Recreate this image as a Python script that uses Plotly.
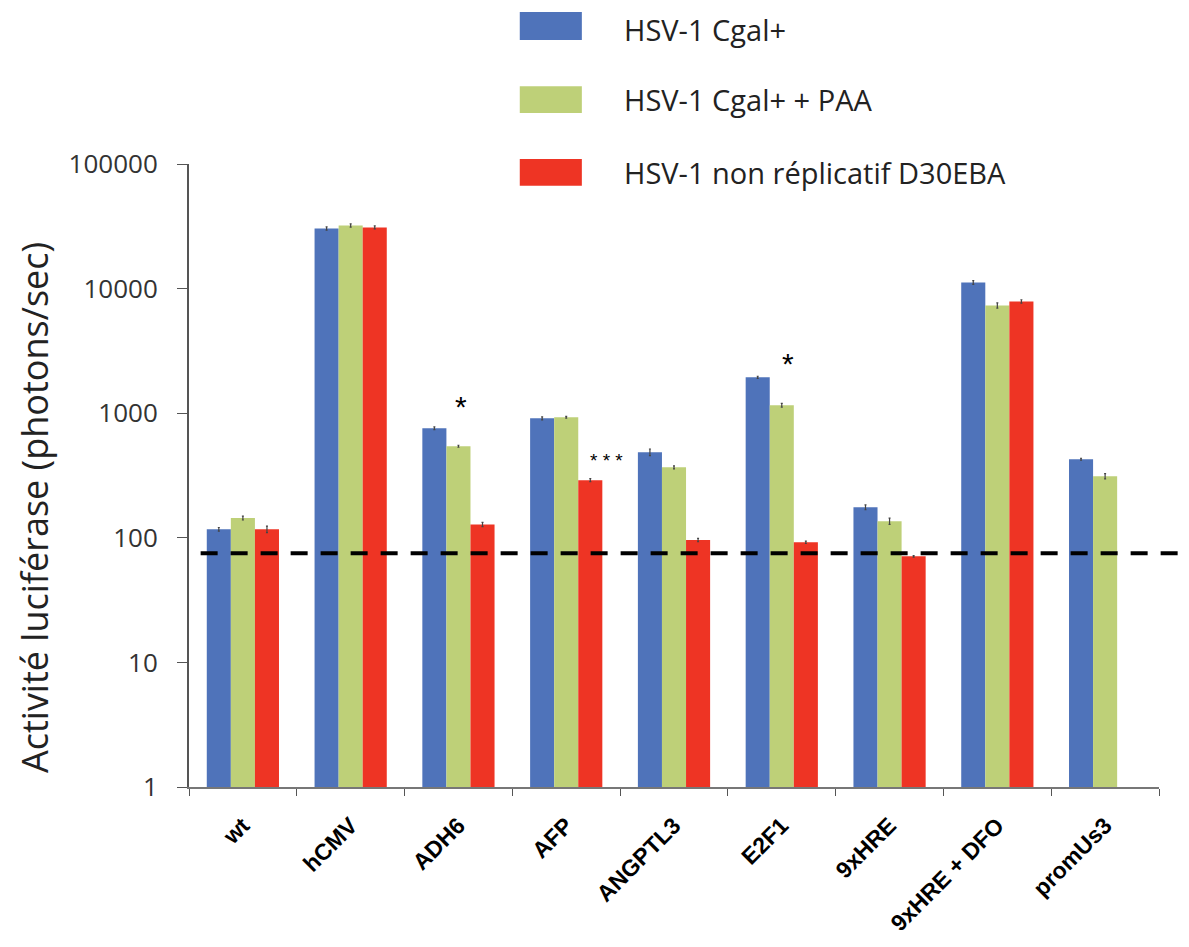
import plotly.graph_objects as go

categories = ["wt", "hCMV", "ADH6", "AFP", "ANGPTL3", "E2F1", "9xHRE", "9xHRE + DFO", "promUs3"]
series_names = ["HSV-1 Cgal+", "HSV-1 Cgal+ + PAA", "HSV-1 non réplicatif D30EBA"]
cgal = [117, 30400, 757, 910, 486, 1940, 176, 11200, 427]
cgal_paa = [144, 32100, 543, 927, 368, 1157, 136, 7330, 312]
d30eba = [117, 31000, 128, 290, 96, 92, 71, 7890, None]
cgal_err = [4, 900, 20, 25, 30, 40, 8, 400, 8]
cgal_paa_err = [5, 1000, 10, 15, 10, 40, 8, 350, 15]
d30eba_err = [7, 900, 5, 8, 3, 2, 1, 250, 0]
baseline = 75
ytick_vals = [1, 10, 100, 1000, 10000, 100000]
ytick_text = ["1", "10", "100", "1000", "10000", "100000"]
colors = ["#4F73BA", "#BED078", "#EE3424"]

fig = go.Figure()
for name, vals, errs, col in zip(series_names, [cgal, cgal_paa, d30eba],
                                 [cgal_err, cgal_paa_err, d30eba_err], colors):
    fig.add_trace(go.Bar(
        x=categories, y=vals, name=name, marker=dict(color=col, line=dict(width=0)),
        error_y=dict(type="data", array=errs, visible=True, color="#444", thickness=1.2, width=1),
        showlegend=False,
    ))

fig.add_shape(type="line", xref="paper", yref="y", x0=0.012, x1=1.03,
              y0=baseline, y1=baseline,
              line=dict(color="black", width=4, dash="17px,13px"))

# significance marks
fig.add_annotation(x="ADH6", y=3.05, xshift=3, text="*", showarrow=False,
                   font=dict(size=30, color="black", family="Liberation Sans"))
fig.add_annotation(x="E2F1", y=3.40, xshift=6, text="*", showarrow=False,
                   font=dict(size=30, color="black", family="Liberation Sans"))
fig.add_annotation(x="AFP", y=2.62, xshift=40, text="* * *", showarrow=False,
                   font=dict(size=19, color="black", family="Liberation Sans"))

# legend drawn manually
leg_y = [(1.244, 1.199), (1.125, 1.082), (1.008, 0.965)]
for i, ((ytop, ybot), col, name) in enumerate(zip(leg_y, colors, series_names)):
    fig.add_shape(type="rect", xref="paper", yref="paper", x0=0.341, x1=0.405,
                  y0=ybot, y1=ytop, fillcolor=col, line=dict(width=0))
    fig.add_annotation(xref="paper", yref="paper", x=0.447, y=(ytop + ybot) / 2,
                       yshift=-3 if i == 0 else 0, borderpad=0,
                       text=name, showarrow=False, xanchor="left", yanchor="middle",
                       font=dict(size=29, color="#222", family="Open Sans"))

fig.add_annotation(xref="paper", yref="paper", x=-0.159, y=0.449, textangle=-90,
                   xanchor="center", yanchor="middle",
                   text="Activité luciférase (photons/sec)", showarrow=False,
                   font=dict(size=36, color="#222", family="Open Sans"))

fig.update_layout(
    width=1189, height=947,
    margin=dict(l=181, r=38, t=156, b=168),
    plot_bgcolor="white", paper_bgcolor="white",
    barmode="group", bargap=0.33, bargroupgap=0,
    xaxis=dict(type="category", tickson="boundaries", ticks="outside", ticklen=7,
               tickcolor="#555", showline=True, linecolor="#777", linewidth=2,
               tickmode="array", tickvals=categories,
               ticktext=["<b>" + c + "</b>" for c in categories],
               ticklabelstandoff=14,
               tickangle=-45, tickfont=dict(family="Liberation Sans", size=23, color="black"),
               showgrid=False),
    yaxis=dict(type="log", range=[0, 5], tickvals=ytick_vals, ticktext=ytick_text,
               ticks="outside", ticklen=10, tickcolor="#555", showline=True,
               linecolor="#555", linewidth=2, showgrid=False, zeroline=False,
               ticklabelstandoff=14,
               tickfont=dict(family="Open Sans", size=26, color="#333")),
)

fig.write_html("out.html")
